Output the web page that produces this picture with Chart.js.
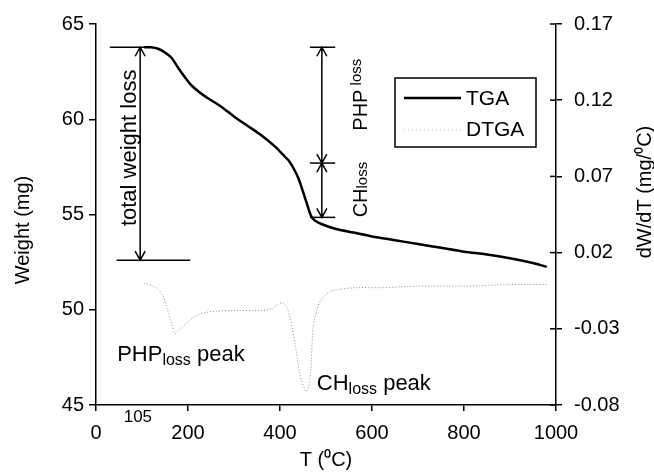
<!DOCTYPE html>
<html>
<head>
<meta charset="utf-8">
<script src="https://cdn.jsdelivr.net/npm/chart.js@4.4.0/dist/chart.umd.min.js"></script>
<style>
  html, body { margin: 0; padding: 0; background: #fff; }
</style>
</head>
<body>
<canvas id="myChart" width="654" height="472"></canvas>
<script>
// TGA curve: temperature (C) and weight (mg)
const TGA_T = [105, 120, 135, 150, 165, 180, 195, 210, 240, 270, 300, 330, 360, 390, 410, 420, 430, 440, 450, 460, 468, 475, 490, 520, 560, 600, 650, 700, 750, 800, 850, 900, 950, 980];
const TGA_W = [63.78, 63.78, 63.7, 63.5, 63.2, 62.65, 62.15, 61.72, 61.15, 60.7, 60.15, 59.65, 59.15, 58.55, 58.05, 57.8, 57.4, 56.9, 56.2, 55.45, 54.9, 54.7, 54.5, 54.25, 54.05, 53.85, 53.65, 53.45, 53.25, 53.05, 52.9, 52.7, 52.45, 52.25];

// DTGA curve: temperature (C) and dW/dT (mg/C)
const DTGA_T = [105, 130, 145, 155, 165, 172, 180, 197, 215, 233, 262, 300, 349, 382, 395, 404, 415, 422, 433, 443, 454, 458, 462, 467, 472, 480, 487, 498, 509, 530, 567, 624, 700, 800, 900, 980];
const DTGA_V = [0.0, -0.003, -0.008, -0.017, -0.027, -0.033, -0.031, -0.026, -0.022, -0.0196, -0.0185, -0.018, -0.018, -0.017, -0.014, -0.013, -0.016, -0.023, -0.040, -0.0595, -0.070, -0.071, -0.068, -0.057, -0.029, -0.018, -0.012, -0.008, -0.0055, -0.004, -0.003, -0.003, -0.002, -0.002, -0.001, -0.001];

const X_TICKS = [0, 200, 400, 600, 800, 1000];
const LEFT_TICKS = [45, 50, 55, 60, 65];
const RIGHT_TICKS = [-0.08, -0.03, 0.02, 0.07, 0.12, 0.17];

const FONT = '"Liberation Sans", Arial, sans-serif';

function richText(ctx, parts, x, y) {
  let cx = x;
  parts.forEach(p => {
    ctx.font = p.size + "px " + FONT;
    ctx.fillText(p.text, cx, y + (p.dy || 0));
    cx += ctx.measureText(p.text).width;
  });
}

function rotatedRich(ctx, parts, x, y) {
  ctx.save();
  ctx.translate(x, y);
  ctx.rotate(-Math.PI / 2);
  richText(ctx, parts, 0, 0);
  ctx.restore();
}

function rotatedText(ctx, text, size, x, y) {
  ctx.save();
  ctx.translate(x, y);
  ctx.rotate(-Math.PI / 2);
  ctx.font = size + "px " + FONT;
  ctx.textAlign = "center";
  ctx.textBaseline = "middle";
  ctx.fillText(text, 0, 0);
  ctx.restore();
}

function hline(ctx, x1, x2, y) {
  ctx.beginPath();
  ctx.moveTo(x1, y);
  ctx.lineTo(x2, y);
  ctx.stroke();
}

function doubleArrow(ctx, x, y1, y2) {
  const h = 9, w = 5;
  ctx.beginPath();
  ctx.moveTo(x, y1);
  ctx.lineTo(x, y2);
  ctx.moveTo(x - w, y1 + h);
  ctx.lineTo(x, y1);
  ctx.lineTo(x + w, y1 + h);
  ctx.moveTo(x - w, y2 - h);
  ctx.lineTo(x, y2);
  ctx.lineTo(x + w, y2 - h);
  ctx.stroke();
}

const annotations = {
  id: "annotations",
  afterDatasetsDraw(chart) {
    const ctx = chart.ctx;
    const xs = chart.scales.x;
    const yl = chart.scales.y;
    const yr = chart.scales.y2;
    const area = chart.chartArea;
    const X = v => xs.getPixelForValue(v);
    const Y = v => yl.getPixelForValue(v);

    ctx.save();
    ctx.strokeStyle = "#000";
    ctx.fillStyle = "#000";
    ctx.lineWidth = 1.5;
    ctx.textBaseline = "alphabetic";
    ctx.textAlign = "left";

    // right axis ticks cross the axis line
    RIGHT_TICKS.forEach(v => hline(ctx, area.right - 6, area.right, yr.getPixelForValue(v)));

    // total weight loss
    hline(ctx, X(30), X(110), Y(63.78));
    hline(ctx, X(45), X(205), Y(52.6));
    doubleArrow(ctx, X(96), Y(63.78), Y(52.6));
    rotatedText(ctx, "total weight loss", 22, X(74), Y(58.5));

    // PHP loss and CH loss
    hline(ctx, X(465), X(520), Y(63.78));
    hline(ctx, X(465), X(520), Y(57.7));
    hline(ctx, X(465), X(520), Y(54.85));
    doubleArrow(ctx, X(491), Y(63.78), Y(57.7));
    doubleArrow(ctx, X(491), Y(57.7), Y(54.85));
    rotatedRich(ctx, [{ text: "PHP", size: 20 }, { text: " loss", size: 15, dy: -6 }], X(590), Y(59.4));
    rotatedRich(ctx, [{ text: "CH", size: 20 }, { text: "loss", size: 15 }], X(590), Y(54.85));

    // peak labels
    richText(ctx, [{ text: "PHP", size: 22 }, { text: "loss", size: 16, dy: 4 }, { text: " peak", size: 22 }], X(46), Y(47.3));
    richText(ctx, [{ text: "CH", size: 22 }, { text: "loss", size: 16, dy: 4 }, { text: " peak", size: 22 }], X(480), Y(45.8));

    // 105 marker below the axis
    ctx.font = "17px " + FONT;
    ctx.textAlign = "center";
    ctx.textBaseline = "middle";
    ctx.fillText("105", X(91), area.bottom + 12);

    // axis titles on the sides
    rotatedText(ctx, "Weight (mg)", 20, 23, 230);
    rotatedText(ctx, "dW/dT (mg/\u2070C)", 20, 645, 192);

    // legend box
    const lx = area.left + (area.right - area.left) * 0.65;
    const ly = area.top + 54;
    ctx.lineWidth = 1.5;
    ctx.strokeRect(lx, ly, 141, 69);
    ctx.lineWidth = 2.5;
    hline(ctx, lx + 9, lx + 66, ly + 20);
    ctx.strokeStyle = "#bbb";
    ctx.lineWidth = 1;
    ctx.setLineDash([1, 3]);
    hline(ctx, lx + 9, lx + 66, ly + 52);
    ctx.setLineDash([]);
    ctx.font = "21px " + FONT;
    ctx.textAlign = "left";
    ctx.textBaseline = "middle";
    ctx.fillText("TGA", lx + 71, ly + 21);
    ctx.fillText("DTGA", lx + 71, ly + 52);
    ctx.restore();
  }
};

const data = {
  datasets: [
    {
      label: "TGA",
      data: TGA_T.map((t, i) => ({ x: t, y: TGA_W[i] })),
      yAxisID: "y",
      borderColor: "#000",
      borderWidth: 2.5,
      pointRadius: 0,
      tension: 0.3,
    },
    {
      label: "DTGA",
      data: DTGA_T.map((t, i) => ({ x: t, y: DTGA_V[i] })),
      yAxisID: "y2",
      borderColor: "#8c8c8c",
      borderWidth: 1,
      borderDash: [1, 2],
      pointRadius: 0,
      tension: 0.3,
    },
  ],
};

const tickFont = { family: FONT, size: 20 };

const options = {
  responsive: false,
  animation: false,
  layout: { padding: { top: 19 } },
  plugins: {
    legend: { display: false },
    tooltip: { enabled: false },
  },
  scales: {
    x: {
      type: "linear",
      min: 0,
      max: 1000,
      afterBuildTicks: s => { s.ticks = X_TICKS.map(v => ({ value: v })); },
      afterFit: s => { s.height = 67; },
      grid: { drawOnChartArea: false, tickLength: 6, color: "#000", lineWidth: 1.5 },
      border: { color: "#000", width: 1.5 },
      ticks: { color: "#000", font: tickFont, padding: 10, maxRotation: 0, callback: v => String(v) },
      title: { display: true, text: "T (\u2070C)", color: "#000", font: { family: FONT, size: 20 }, padding: 0 },
    },
    y: {
      position: "left",
      min: 45,
      max: 65,
      afterBuildTicks: s => { s.ticks = LEFT_TICKS.map(v => ({ value: v })); },
      afterFit: s => { s.width = 96; },
      grid: { drawOnChartArea: false, tickLength: 7, color: "#000", lineWidth: 1.5 },
      border: { color: "#000", width: 1.5 },
      ticks: { color: "#000", font: tickFont, padding: 5, callback: v => String(v) },
    },
    y2: {
      position: "right",
      min: -0.08,
      max: 0.17,
      afterBuildTicks: s => { s.ticks = RIGHT_TICKS.map(v => ({ value: v })); },
      afterFit: s => { s.width = 98; },
      grid: { drawOnChartArea: false, tickLength: 6, color: "#000", lineWidth: 1.5 },
      border: { color: "#000", width: 1.5 },
      ticks: { color: "#000", font: tickFont, padding: 12, callback: v => v.toFixed(2) },
    },
  },
};

Chart.defaults.font.family = FONT;

const myChart = new Chart(document.getElementById("myChart"), {
  type: "line",
  data: data,
  options,
  plugins: [annotations],
});
</script>
</body>
</html>
